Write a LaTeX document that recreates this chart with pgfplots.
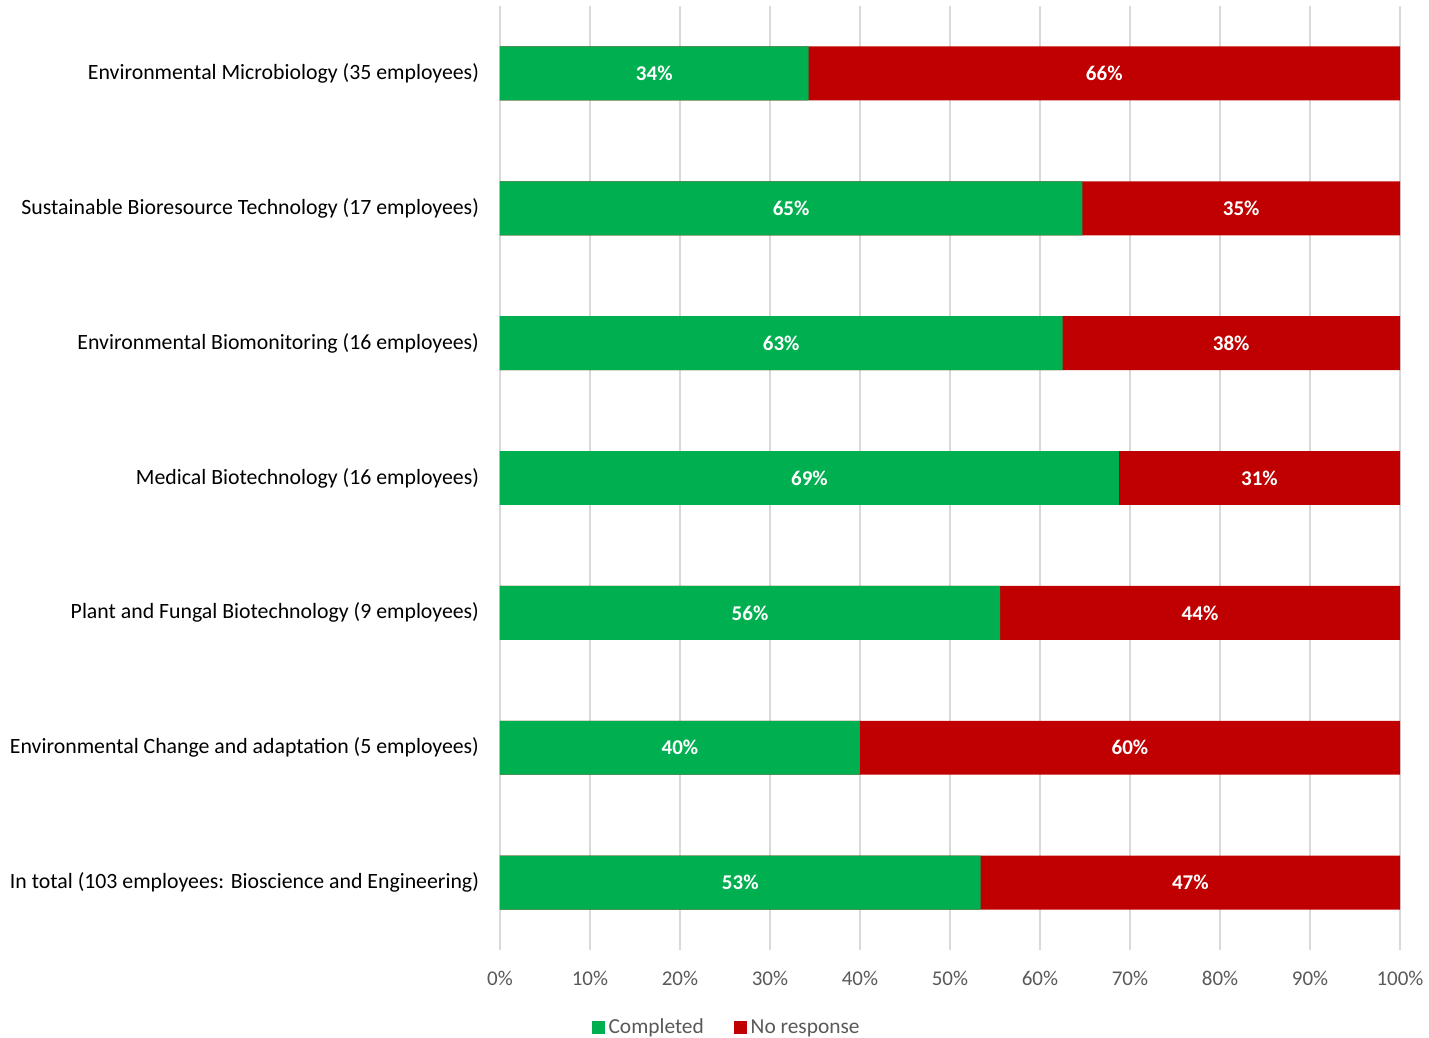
\documentclass[border=0pt]{standalone}
\usepackage{fontspec}
\setmainfont{Carlito}
\usepackage{pgfplots}
\pgfplotsset{compat=1.18}
\definecolor{cgreen}{HTML}{00B050}
\definecolor{cred}{HTML}{C00000}
\definecolor{cgrid}{HTML}{D9D9D9}
\definecolor{ctick}{HTML}{595959}
\begin{document}
\begin{tikzpicture}[x=1pt,y=1pt]
\useasboundingbox (-250,-44) rectangle (464.5,475);
\begin{axis}[
    at={(0,0)}, anchor=south west,
    scale only axis, width=450pt, height=472pt,
    xmin=0, xmax=100, ymin=-0.5, ymax=6.5,
    y dir=reverse,
    axis line style={draw=none},
    major tick length=0pt,
    xmajorgrids, grid style={cgrid, line width=0.6pt},
    xtick={0,10,...,100},
    xticklabels={0\%,10\%,20\%,30\%,40\%,50\%,60\%,70\%,80\%,90\%,100\%},
    xticklabel style={font=\fontsize{10.5}{12}\selectfont, text=ctick, yshift=-7pt},
    ytick={0,...,6},
    yticklabels={
        Environmental Microbiology (35 employees),
        Sustainable Bioresource Technology (17 employees),
        Environmental Biomonitoring (16 employees),
        Medical Biotechnology (16 employees),
        Plant and Fungal Biotechnology (9 employees),
        Environmental Change and adaptation (5 employees),
        In total (103 employees: Bioscience and Engineering)},
    yticklabel style={font=\fontsize{10.9}{12}\selectfont, text=black, anchor=east, xshift=-7pt},
    legend style={at={(0.253,-0.0825)}, anchor=center, draw=none, fill=none,
        legend columns=2, font=\fontsize{10.7}{12}\selectfont, text=ctick,
        /tikz/every even column/.append style={column sep=13pt}},
    legend image code/.code={\fill[#1] (0pt,-3.2pt) rectangle (6.4pt,3.2pt);},
]
% No response: full bar behind, completed share drawn over it
\addplot[xbar, bar width=0.4, bar shift=0pt, fill=cred, draw=none, forget plot] coordinates {
    (100,0) (100,1) (100,2) (100,3) (100,4) (100,5) (100,6)
};
\addplot[xbar, bar width=0.4, bar shift=0pt, fill=cgreen, draw=none, forget plot] coordinates {
    (34.29,0) (64.71,1) (62.5,2) (68.75,3) (55.56,4) (40,5) (53.40,6)
};
% segment labels at segment centres
\addplot[draw=none, mark=none, forget plot, point meta=explicit symbolic,
    nodes near coords, nodes near coords style={anchor=center, text=white,
    font=\fontsize{10.5}{12}\selectfont\bfseries}] coordinates {
    (17.14,0)[34\%] (32.35,1)[65\%] (31.25,2)[63\%] (34.38,3)[69\%]
    (27.78,4)[56\%] (20,5)[40\%] (26.70,6)[53\%]
    (67.14,0)[66\%] (82.35,1)[35\%] (81.25,2)[38\%] (84.38,3)[31\%]
    (77.78,4)[44\%] (70,5)[60\%] (76.70,6)[47\%]
};
\addlegendimage{fill=cgreen, draw=none}
\addlegendentry{Completed}
\addlegendimage{fill=cred, draw=none}
\addlegendentry{No response}
\end{axis}
\end{tikzpicture}
\end{document}
